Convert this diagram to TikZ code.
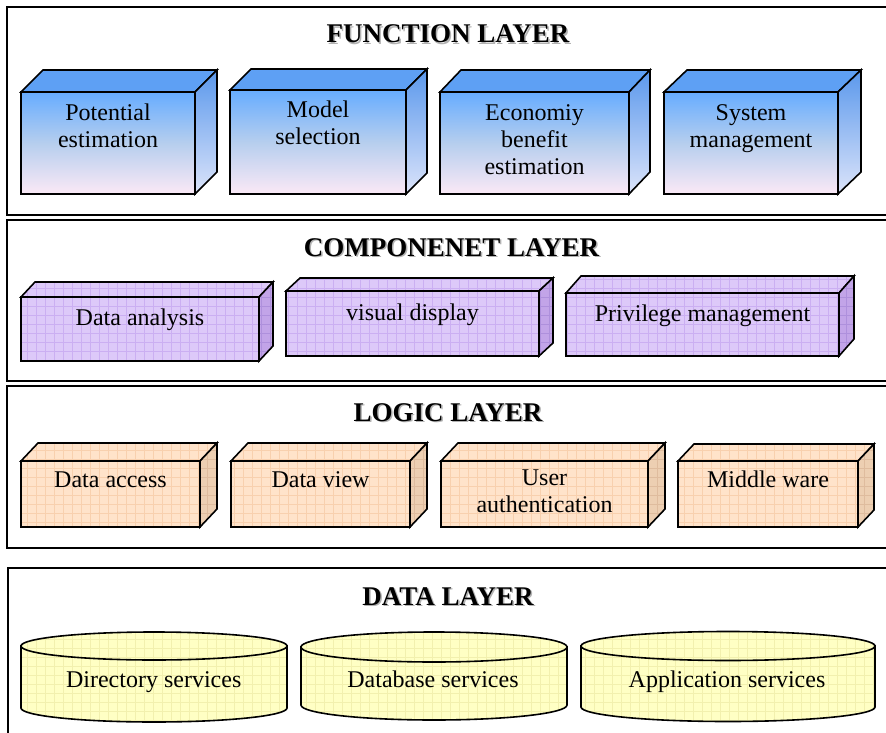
\documentclass[tikz,border=0pt]{standalone}
\usepackage{fontspec}
\setmainfont{Liberation Serif}
\definecolor{fbA}{HTML}{66ACFF}
\definecolor{fbB}{HTML}{B6CEEE}
\definecolor{fbC}{HTML}{FBE9F6}
\definecolor{fbtop}{HTML}{5EA0F4}
\definecolor{fbsA}{HTML}{5A98EC}
\definecolor{fbsB}{HTML}{DCE4FA}
\definecolor{cf}{HTML}{DDC9F9}
\definecolor{cg}{HTML}{CBAFF2}
\definecolor{cs}{HTML}{C2A4E8}
\definecolor{csg}{HTML}{AE90DC}
\definecolor{lf}{HTML}{FFE3CA}
\definecolor{lg}{HTML}{F8D0AE}
\definecolor{ls}{HTML}{EDCFB2}
\definecolor{lsg}{HTML}{DFBC9E}
\definecolor{yf}{HTML}{FFFFC4}
\definecolor{yg}{HTML}{F2F0AE}
\newcommand\cuboid[8]{%
  \path[#8front] (#2,#3) rectangle (#4,#5);
  \path[#8top] (#2,#3) -- (#2+#6,#3-#7) -- (#4+#6,#3-#7) -- (#4,#3) -- cycle;
  \path[#8side] (#4,#3) -- (#4+#6,#3-#7) -- (#4+#6,#5-#7) -- (#4,#5) -- cycle;
  \coordinate (#1) at ({(#2+#4)/2},{(#3+#5)/2});
}
\newcommand\cylshape[6]{%
  \path[cylbody] (#2-#3,#4) -- (#2-#3,#5) arc[start angle=180,end angle=360,x radius=#3pt,y radius=#6pt] -- (#2+#3,#4) -- cycle;
  \path[cylbody] (#2,#4) ellipse[x radius=#3pt,y radius=#6pt];
  \coordinate (#1) at (#2,#4);
}
\begin{document}
\begin{tikzpicture}[x=1pt,y=-1pt,line join=miter,
  frame/.style={draw=black,line width=1.8pt,fill=white},
  ttl/.style={font=\fontsize{27}{30}\selectfont\bfseries,anchor=base,inner sep=0pt},
  ttlsh/.style={ttl,text=black!30},
  lbl/.style={font=\fontsize{24}{27}\selectfont,anchor=north,inner sep=0pt,yshift=18.9pt,align=center},
  gridpic/.style={path picture={\draw[#1,line width=0.5pt,step=9pt] (path picture bounding box.south west) grid (path picture bounding box.north east);}},
  edge/.style={draw=black,line width=1.6pt},
  funcfront/.style={edge,top color=fbA,bottom color=fbC,middle color=fbB},
  functop/.style={edge,fill=fbtop},
  funcside/.style={edge,top color=fbsA,bottom color=fbsB},
  compfront/.style={edge,fill=cf,gridpic=cg},
  comptop/.style={edge,fill=cf,gridpic=cg},
  compside/.style={edge,fill=cs,gridpic=csg},
  logicfront/.style={edge,fill=lf,gridpic=lg},
  logictop/.style={edge,fill=lf,gridpic=lg},
  logicside/.style={edge,fill=ls,gridpic=lsg},
  cylbody/.style={edge,fill=yf,gridpic=yg}]
\clip (0,0) rectangle (886,733);
\fill[white] (0,0) rectangle (886,733);
% layer frames
\path[frame] (7,7) rectangle (896,215);
\path[frame] (7,220) rectangle (896,381);
\path[frame] (7,386) rectangle (896,548);
\path[frame] (8,568) rectangle (896,745);
% titles
\node[ttlsh] (t1s) at (449.5,44.5) {FUNCTION LAYER};
\node[ttl] (t1) at (448,43) {FUNCTION LAYER};
\node[ttlsh] (t2s) at (453,257.5) {COMPONENET LAYER};
\node[ttl] (t2) at (451.5,256) {COMPONENET LAYER};
\node[ttlsh] (t3s) at (449.5,422.5) {LOGIC LAYER};
\node[ttl] (t3) at (448,421) {LOGIC LAYER};
\node[ttlsh] (t4s) at (449.5,606.5) {DATA LAYER};
\node[ttl] (t4) at (448,605) {DATA LAYER};
% function layer
\cuboid{f1}{21}{92}{195}{194}{22}{22}{func}
\cuboid{f2}{230}{90}{406}{194}{21}{21}{func}
\cuboid{f3}{440}{92}{629}{194}{21}{22}{func}
\cuboid{f4}{664}{92}{838}{194}{23}{22}{func}
\node[lbl] (f1t) at (108,120) {\strut Potential\\estimation};
\node[lbl] (f2t) at (318,117.5) {\strut Model\\selection};
\node[lbl] (f3t) at (534.5,120) {\strut Economiy\\benefit\\estimation};
\node[lbl] (f4t) at (751,120) {\strut System\\management};
% component layer
\cuboid{c1}{21}{297}{259}{361}{14}{15}{comp}
\cuboid{c2}{286}{291}{539}{356}{14}{13}{comp}
\cuboid{c3}{566}{293}{839}{356}{15}{17}{comp}
\node[lbl] (c1t) at (140,325) {\strut Data analysis};
\node[lbl] (c2t) at (412.5,320) {\strut visual display};
\node[lbl] (c3t) at (702.5,321.5) {\strut Privilege management};
% logic layer
\cuboid{l1}{21}{461}{200}{527}{17}{18}{logic}
\cuboid{l2}{231}{461}{410}{527}{17}{18}{logic}
\cuboid{l3}{441}{461}{648}{527}{17}{18}{logic}
\cuboid{l4}{678}{461}{858}{527}{16}{17}{logic}
\node[lbl] (l1t) at (110.5,487) {\strut Data access};
\node[lbl] (l2t) at (320.5,487) {\strut Data view};
\node[lbl] (l3t) at (544.5,485) {\strut User\\authentication};
\node[lbl] (l4t) at (768,487) {\strut Middle ware};
% data layer
\cylshape{d1}{154}{133}{646}{708}{14}
\cylshape{d2}{434}{133}{647}{705}{15}
\cylshape{d3}{728}{147}{646}{707}{14.5}
\node[lbl] (d1t) at (153.7,687) {\strut Directory services};
\node[lbl] (d2t) at (433,687) {\strut Database services};
\node[lbl] (d3t) at (727,687) {\strut Application services};
\end{tikzpicture}
\end{document}
